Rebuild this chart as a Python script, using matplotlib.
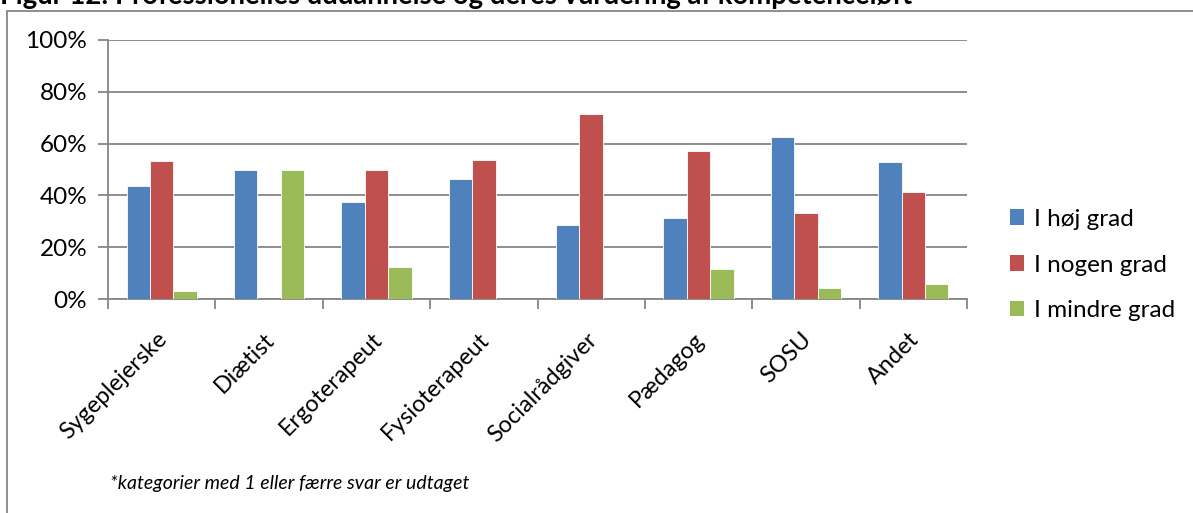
import matplotlib
matplotlib.use("Agg")
import matplotlib.pyplot as plt
from matplotlib.patches import Rectangle, Patch
from matplotlib.ticker import FuncFormatter
from matplotlib.transforms import ScaledTranslation
import numpy as np

categories = ["Sygeplejerske", "Diætist", "Ergoterapeut", "Fysioterapeut",
              "Socialrådgiver", "Pædagog", "SOSU", "Andet"]
series_names = ["I høj grad", "I nogen grad", "I mindre grad"]
hoej = [43.8, 50.0, 37.5, 46.2, 28.6, 31.4, 62.5, 52.9]
nogen = [53.1, 0.0, 50.0, 53.8, 71.4, 57.1, 33.3, 41.2]
mindre = [3.1, 50.0, 12.5, 0.0, 0.0, 11.4, 4.2, 5.9]
colors = ["#4F81BD", "#C0504D", "#9BBB59"]
yticks = [0, 20, 40, 60, 80, 100]
title = "Figur 12: Professionelles uddannelse og deres vurdering af kompetenceløft"
footnote = "*kategorier med 1 eller færre svar er udtaget"

plt.rcParams['font.family'] = ['Lato', 'DejaVu Sans']

W, H = 1193, 513
fig = plt.figure(figsize=(W / 100, H / 100), dpi=100)

def fx(px):
    return px / W

def fy(py):
    return 1 - py / H

# outer chart border
fig.patches.append(Rectangle((fx(7), fy(H + 5)), fx(W + 10) - fx(7), fy(11) - fy(H + 5),
                             transform=fig.transFigure, fill=False,
                             edgecolor="#868686", linewidth=1.3, zorder=0))

# title (partly cut off at the top edge, as in the reference)
fig.text(fx(0), fy(4), title, fontsize=19.8, fontweight='bold', ha='left', va='baseline')

ax = fig.add_axes([fx(108), fy(299), fx(967) - fx(108), fy(40) - fy(299)])

x = np.arange(len(categories))
bw = 0.218
for i, (vals, c, name) in enumerate(zip([hoej, nogen, mindre], colors, series_names)):
    ax.bar(x + (i - 1) * bw, vals, width=bw, color=c, edgecolor="white",
           linewidth=0.6, label=name, zorder=3)

ax.set_xlim(-0.5, len(categories) - 0.5)
ax.set_ylim(0, 100)
ax.set_yticks(yticks)
ax.yaxis.set_major_formatter(FuncFormatter(lambda v, p: f"{int(v)}%"))
ax.grid(axis='y', color="#868686", linewidth=1.3, zorder=0)
ax.set_axisbelow(True)

ax.set_xticks(x)
ax.set_xticklabels(categories, rotation=45, ha='right', rotation_mode='anchor',
                   fontsize=16.8)
ax.set_xticks(np.arange(-0.5, len(categories)), minor=True)
ax.tick_params(axis='x', which='major', length=0, pad=17)
ax.tick_params(axis='x', which='minor', length=7, width=1.3, color="#868686")
ax.tick_params(axis='y', length=7, width=1.3, color="#868686", labelsize=17.5, pad=8)

shift = ScaledTranslation(-5 / 100, -6 / 100, fig.dpi_scale_trans)
for lbl in ax.get_xticklabels():
    lbl.set_transform(lbl.get_transform() + shift)

for s in ['top', 'right']:
    ax.spines[s].set_visible(False)
for s in ['left', 'bottom']:
    ax.spines[s].set_color("#868686")
    ax.spines[s].set_linewidth(1.3)

handles = [Patch(facecolor=c, edgecolor='none') for c in colors]
fig.legend(handles, series_names, loc='center left',
           bbox_to_anchor=(fx(1000), fy(265)), frameon=False, fontsize=17.5,
           handlelength=0.6, handleheight=0.6, handletextpad=0.4,
           labelspacing=1.02, borderaxespad=0)

fig.text(fx(110), fy(484), footnote, fontsize=14, style='italic',
         ha='left', va='center')

fig.savefig("out.png", dpi=100)
